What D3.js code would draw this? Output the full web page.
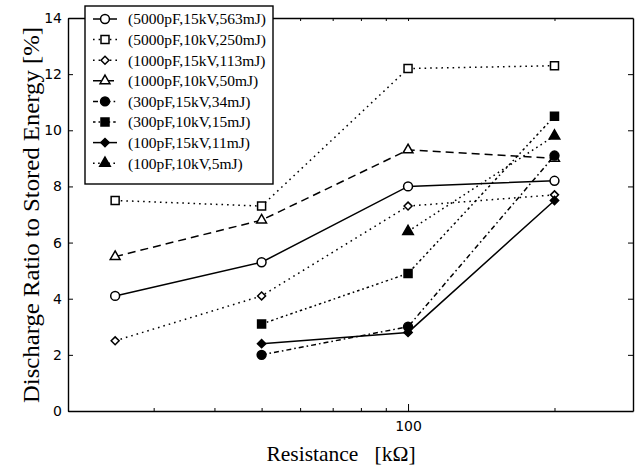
<!DOCTYPE html>
<html><head><meta charset="utf-8">
<script src="https://cdn.jsdelivr.net/npm/d3@7"></script>
<style>body{margin:0;background:#fff}svg{display:block}</style>
</head><body><svg id="c" width="635" height="468"></svg>
<script>
// ---- data ----
const resistances = [25, 50, 100, 200];            // kΩ
const seriesNames = [
  "(5000pF,15kV,563mJ)", "(5000pF,10kV,250mJ)", "(1000pF,15kV,113mJ)", "(1000pF,10kV,50mJ)",
  "(300pF,15kV,34mJ)", "(300pF,10kV,15mJ)", "(100pF,15kV,11mJ)", "(100pF,10kV,5mJ)"
];
const c5000_15 = [4.1, 5.3, 8.0, 8.2];
const c5000_10 = [7.5, 7.3, 12.2, 12.3];
const c1000_15 = [2.5, 4.1, 7.3, 7.7];
const c1000_10 = [5.5, 6.8, 9.3, 9.0];
const c300_15  = [null, 2.0, 3.0, 9.1];
const c300_10  = [null, 3.1, 4.9, 10.5];
const c100_15  = [null, 2.4, 2.8, 7.5];
const c100_10  = [null, null, 6.4, 9.8];
const yTickValues = [0, 2, 4, 6, 8, 10, 12, 14];
const xTickLabels = [100];
const xMinorTicks = [20, 30, 40, 50, 60, 70, 80, 90, 200];

// ---- styles ----
const seriesValues = [c5000_15, c5000_10, c1000_15, c1000_10, c300_15, c300_10, c100_15, c100_10];
const dia = d3.symbolDiamond2 || d3.symbolDiamond;
const styles = [
  {sym: d3.symbolCircle,   size: 62, fill: "#fff", dash: null},
  {sym: d3.symbolSquare,   size: 64, fill: "#fff", dash: "1.6,4"},
  {sym: dia,               size: 40, fill: "#fff", dash: "1.6,4"},
  {sym: d3.symbolTriangle, size: 42, fill: "#fff", dash: "8,5"},
  {sym: d3.symbolCircle,   size: 62, fill: "#000", dash: "5,3,1.6,3"},
  {sym: d3.symbolSquare,   size: 64, fill: "#000", dash: "2.5,3,1.6,3"},
  {sym: dia,               size: 44, fill: "#000", dash: null},
  {sym: d3.symbolTriangle, size: 48, fill: "#000", dash: "1.6,3.5"}
];

const svg = d3.select("#c");
const L = 68, R = 633, T = 18, B = 411;
const x = d3.scaleLog().domain([20, 290]).range([L, R]);
const y = d3.scaleLinear().domain([0, 14]).range([B, T]);

// axes (ticks inward)
const g = svg.append("g");
const tickFont = "DejaVu Sans, sans-serif";
const bottom = g.append("g").attr("transform", `translate(0,${B})`)
  .call(d3.axisBottom(x).tickValues(xMinorTicks.concat(xTickLabels)).tickSizeInner(-4).tickSizeOuter(0)
    .tickFormat(d => xTickLabels.includes(d) ? d : ""));
bottom.selectAll("text").attr("y", 10).attr("dy", "0.71em").attr("font-size", 14).attr("font-family", tickFont);
bottom.selectAll(".tick line").attr("y2", d => xTickLabels.includes(d) ? -7 : -3);
g.append("g").attr("transform", `translate(0,${T})`)
  .call(d3.axisTop(x).tickValues(xMinorTicks.concat(xTickLabels)).tickSizeInner(-3).tickSizeOuter(0).tickFormat(""));
const left = g.append("g").attr("transform", `translate(${L},0)`)
  .call(d3.axisLeft(y).tickValues(yTickValues).tickSizeInner(-5).tickSizeOuter(0).tickPadding(6));
left.selectAll("text").attr("font-size", 14).attr("font-family", tickFont);
g.append("g").attr("transform", `translate(${R},0)`)
  .call(d3.axisRight(y).tickValues(yTickValues).tickSizeInner(-5).tickSizeOuter(0).tickFormat(""));
g.selectAll(".domain").attr("stroke", "#000").attr("stroke-width", 1.4);
g.selectAll(".tick line").attr("stroke", "#000").attr("stroke-width", 1);

// series lines + markers
seriesValues.forEach((vals, i) => {
  const pts = vals.map((v, j) => ({r: resistances[j], v})).filter(p => p.v !== null);
  const st = styles[i];
  svg.append("path").datum(pts)
    .attr("fill", "none").attr("stroke", "#000").attr("stroke-width", 1.5)
    .attr("stroke-dasharray", st.dash)
    .attr("d", d3.line().x(p => x(p.r)).y(p => y(p.v)));
  svg.selectAll(null).data(pts).enter().append("path")
    .attr("transform", p => `translate(${x(p.r)},${y(p.v)})`)
    .attr("d", d3.symbol().type(st.sym).size(st.size))
    .attr("fill", st.fill).attr("stroke", "#000").attr("stroke-width", 1.5);
});

// legend
const lg = svg.append("g");
lg.append("rect").attr("x", 85).attr("y", 6).attr("width", 188).attr("height", 178)
  .attr("fill", "#fff").attr("stroke", "#000").attr("stroke-width", 1.4);
seriesNames.forEach((name, i) => {
  const yy = 19 + i * 20.6, st = styles[i];
  lg.append("line").attr("x1", 93).attr("x2", 117).attr("y1", yy).attr("y2", yy)
    .attr("stroke", "#000").attr("stroke-width", 1.5).attr("stroke-dasharray", st.dash);
  lg.append("path").attr("transform", `translate(105,${yy})`)
    .attr("d", d3.symbol().type(st.sym).size(st.size))
    .attr("fill", st.fill).attr("stroke", "#000").attr("stroke-width", 1.5);
  lg.append("text").attr("x", 128).attr("y", yy).attr("dy", "0.35em")
    .attr("font-family", "Liberation Serif, serif").attr("font-size", 15.5).text(name);
});

// axis titles
svg.append("text").attr("x", 341).attr("y", 461).attr("text-anchor", "middle")
  .attr("font-family", "Liberation Serif, serif").attr("font-size", 21.5)
  .attr("xml:space", "preserve").text("Resistance   [kΩ]");
svg.append("text").attr("transform", "translate(39,215) rotate(-90)").attr("text-anchor", "middle")
  .attr("font-family", "Liberation Serif, serif").attr("font-size", 24)
  .attr("textLength", 376).attr("lengthAdjust", "spacingAndGlyphs")
  .text("Discharge Ratio to Stored Energy [%]");
</script></body></html>
